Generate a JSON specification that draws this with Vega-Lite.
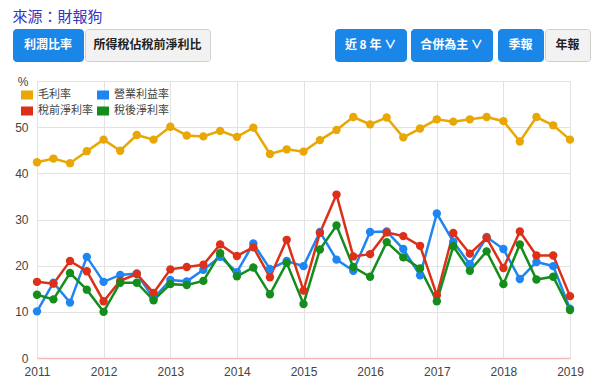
{
  "$schema": "https://vega.github.io/schema/vega-lite/v6.json",
  "background": "white",
  "padding": {"left": 12, "top": 9, "right": 0, "bottom": 0},
  "title": {"text": "來源：財報狗", "anchor": "start", "fontSize": 15, "fontWeight": "normal", "font": "Noto Sans CJK TC", "color": "#3535c4", "offset": 4},
  "config": {"view": {"stroke": null}, "font": "Liberation Sans"},
  "columns": 1,
  "align": "none",
  "spacing": 13,
  "resolve": {"legend": {"color": "independent"}, "scale": {"color": "independent"}},
  "concat": [
    {
      "spacing": 123,
      "hconcat": [
        {
          "spacing": 0,
          "hconcat": [
            {"width": 70, "height": 32, "view": {"fill": "#1a86e8", "stroke": "#1a86e8", "cornerRadius": 3},
             "data": {"values": [{"t": "利潤比率"}]},
             "mark": {"type": "text", "color": "white", "fontWeight": "bold", "fontSize": 12, "font": "Noto Sans CJK TC"},
             "encoding": {"text": {"field": "t"}}},
            {"width": 125, "height": 32, "view": {"fill": "#f2f2f2", "stroke": "#cfcfcf", "cornerRadius": 3},
             "data": {"values": [{"t": "所得稅佔稅前淨利比"}]},
             "mark": {"type": "text", "color": "#222222", "fontWeight": "bold", "fontSize": 12, "font": "Noto Sans CJK TC"},
             "encoding": {"text": {"field": "t"}}}
          ]
        },
        {
          "spacing": 3,
          "hconcat": [
            {"width": 71, "height": 32, "view": {"fill": "#1a86e8", "stroke": "#1a86e8", "cornerRadius": 3},
             "data": {"values": [{"t": "近 8 年 ∨"}]},
             "mark": {"type": "text", "color": "white", "fontWeight": "bold", "fontSize": 12, "font": "Noto Sans CJK TC"},
             "encoding": {"text": {"field": "t"}}},
            {
              "spacing": 4,
              "hconcat": [
                {"width": 81, "height": 32, "view": {"fill": "#1a86e8", "stroke": "#1a86e8", "cornerRadius": 3},
                 "data": {"values": [{"t": "合併為主 ∨"}]},
                 "mark": {"type": "text", "color": "white", "fontWeight": "bold", "fontSize": 12, "font": "Noto Sans CJK TC"},
                 "encoding": {"text": {"field": "t"}}},
                {
                  "spacing": 0,
                  "hconcat": [
                    {"width": 45, "height": 32, "view": {"fill": "#1a86e8", "stroke": "#1a86e8", "cornerRadius": 3},
                     "data": {"values": [{"t": "季報"}]},
                     "mark": {"type": "text", "color": "white", "fontWeight": "bold", "fontSize": 12, "font": "Noto Sans CJK TC"},
                     "encoding": {"text": {"field": "t"}}},
                    {"width": 45, "height": 32, "view": {"fill": "#f2f2f2", "stroke": "#cfcfcf", "cornerRadius": 3},
                     "data": {"values": [{"t": "年報"}]},
                     "mark": {"type": "text", "color": "#222222", "fontWeight": "bold", "fontSize": 12, "font": "Noto Sans CJK TC"},
                     "encoding": {"text": {"field": "t"}}}
                  ]
                }
              ]
            }
          ]
        }
      ]
    },
    {
      "bounds": "flush",
      "spacing": 0,
      "hconcat": [
        {"width": 24, "height": 277, "data": {"values": [{"t": ""}]},
         "mark": {"type": "text"}, "encoding": {"text": {"field": "t"}}},
        {
          "width": 533,
          "height": 277,
          "data": {"values": [
            {"q": "2011-01-01", "毛利率": 42.4, "營業利益率": 10.1, "稅前淨利率": 16.5, "稅後淨利率": 13.7},
            {"q": "2011-04-01", "毛利率": 43.2, "營業利益率": 16.3, "稅前淨利率": 16.1, "稅後淨利率": 12.7},
            {"q": "2011-07-01", "毛利率": 42.2, "營業利益率": 12.0, "稅前淨利率": 21.0, "稅後淨利率": 18.4},
            {"q": "2011-10-01", "毛利率": 44.8, "營業利益率": 21.9, "稅前淨利率": 18.8, "稅後淨利率": 14.8},
            {"q": "2012-01-01", "毛利率": 47.3, "營業利益率": 16.5, "稅前淨利率": 12.3, "稅後淨利率": 10.0},
            {"q": "2012-04-01", "毛利率": 44.9, "營業利益率": 18.0, "稅前淨利率": 16.7, "稅後淨利率": 16.3},
            {"q": "2012-07-01", "毛利率": 48.3, "營業利益率": 18.3, "稅前淨利率": 18.2, "稅後淨利率": 16.3},
            {"q": "2012-10-01", "毛利率": 47.3, "營業利益率": 12.9, "稅前淨利率": 14.1, "稅後淨利率": 12.5},
            {"q": "2013-01-01", "毛利率": 50.1, "營業利益率": 16.9, "稅前淨利率": 19.2, "稅後淨利率": 16.0},
            {"q": "2013-04-01", "毛利率": 48.2, "營業利益率": 16.6, "稅前淨利率": 19.7, "稅後淨利率": 15.8},
            {"q": "2013-07-01", "毛利率": 48.0, "營業利益率": 19.1, "稅前淨利率": 20.2, "稅後淨利率": 16.7},
            {"q": "2013-10-01", "毛利率": 49.2, "營業利益率": 21.9, "稅前淨利率": 24.6, "稅後淨利率": 22.7},
            {"q": "2014-01-01", "毛利率": 47.9, "營業利益率": 18.6, "稅前淨利率": 22.1, "稅後淨利率": 17.7},
            {"q": "2014-04-01", "毛利率": 49.9, "營業利益率": 24.8, "稅前淨利率": 24.0, "稅後淨利率": 19.6},
            {"q": "2014-07-01", "毛利率": 44.2, "營業利益率": 19.3, "稅前淨利率": 17.5, "稅後淨利率": 13.8},
            {"q": "2014-10-01", "毛利率": 45.2, "營業利益率": 21.0, "稅前淨利率": 25.6, "稅後淨利率": 20.6},
            {"q": "2015-01-01", "毛利率": 44.7, "營業利益率": 19.9, "稅前淨利率": 14.6, "稅後淨利率": 11.7},
            {"q": "2015-04-01", "毛利率": 47.2, "營業利益率": 27.3, "稅前淨利率": 27.1, "稅後淨利率": 23.5},
            {"q": "2015-07-01", "毛利率": 49.4, "營業利益率": 21.3, "稅前淨利率": 35.4, "稅後淨利率": 28.7},
            {"q": "2015-10-01", "毛利率": 52.2, "營業利益率": 18.9, "稅前淨利率": 22.0, "稅後淨利率": 19.7},
            {"q": "2016-01-01", "毛利率": 50.6, "營業利益率": 27.3, "稅前淨利率": 22.5, "稅後淨利率": 17.6},
            {"q": "2016-04-01", "毛利率": 52.1, "營業利益率": 27.4, "稅前淨利率": 27.2, "稅後淨利率": 25.1},
            {"q": "2016-07-01", "毛利率": 47.8, "營業利益率": 23.6, "稅前淨利率": 26.4, "稅後淨利率": 21.8},
            {"q": "2016-10-01", "毛利率": 49.7, "營業利益率": 17.9, "稅前淨利率": 24.3, "稅後淨利率": 19.4},
            {"q": "2017-01-01", "毛利率": 51.7, "營業利益率": 31.3, "稅前淨利率": 13.6, "稅後淨利率": 12.3},
            {"q": "2017-04-01", "毛利率": 51.2, "營業利益率": 25.2, "稅前淨利率": 27.1, "稅後淨利率": 24.2},
            {"q": "2017-07-01", "毛利率": 51.7, "營業利益率": 20.3, "稅前淨利率": 22.6, "稅後淨利率": 18.9},
            {"q": "2017-10-01", "毛利率": 52.2, "營業利益率": 26.2, "稅前淨利率": 26.0, "稅後淨利率": 23.1},
            {"q": "2018-01-01", "毛利率": 51.3, "營業利益率": 23.6, "稅前淨利率": 19.5, "稅後淨利率": 16.0},
            {"q": "2018-04-01", "毛利率": 46.9, "營業利益率": 17.1, "稅前淨利率": 27.4, "稅後淨利率": 24.6},
            {"q": "2018-07-01", "毛利率": 52.2, "營業利益率": 20.8, "稅前淨利率": 22.2, "稅後淨利率": 17.0},
            {"q": "2018-10-01", "毛利率": 50.4, "營業利益率": 19.9, "稅前淨利率": 22.2, "稅後淨利率": 17.6},
            {"q": "2019-01-01", "毛利率": 47.3, "營業利益率": 10.7, "稅前淨利率": 13.4, "稅後淨利率": 10.4}
          ]},
          "transform": [
            {"fold": ["毛利率", "營業利益率", "稅前淨利率", "稅後淨利率"], "as": ["series", "value"]}
          ],
          "encoding": {
            "x": {
              "field": "q", "type": "temporal",
              "scale": {"type": "utc", "nice": false},
              "axis": {"title": null, "format": "%Y", "tickCount": 8,
                       "ticks": false, "labelFlush": false, "labelPadding": 8, "labelFontSize": 12, "labelColor": "#444444",
                       "labelFont": "Liberation Sans", "domainColor": "#f2b8b8", "domainWidth": 1.5,
                       "gridColor": "#e3e3e3", "labelOverlap": false}
            },
            "y": {
              "field": "value", "type": "quantitative",
              "scale": {"domain": [0, 60], "nice": false},
              "axis": {"title": null, "values": [0, 10, 20, 30, 40, 50, 60],
                       "labelExpr": "datum.value == 60 ? '%' : datum.label",
                       "ticks": false, "domain": false, "labelPadding": 9, "labelFontSize": 12, "labelColor": "#444444",
                       "labelFont": "Liberation Sans", "gridColor": "#e3e3e3", "minExtent": 24, "maxExtent": 24}
            },
            "color": {
              "field": "series", "type": "nominal",
              "scale": {"domain": ["毛利率", "稅前淨利率", "營業利益率", "稅後淨利率"],
                        "range": ["#e8a704", "#dc3019", "#1d86f2", "#148d1d"]},
              "legend": {"title": null, "orient": "top-left", "offset": 8, "columns": 2, "columnPadding": 4,
                         "rowPadding": 5, "padding": 0, "labelFontSize": 11, "labelFont": "Noto Sans CJK TC",
                         "labelColor": "#444444", "labelOffset": 5,
                         "symbolType": "M-1,-0.75H1V0.75H-1Z", "symbolSize": 144, "symbolStrokeWidth": 0,
                         "symbolOpacity": 1}
            }
          },
          "layer": [
            {"mark": {"type": "line", "strokeWidth": 2.5}},
            {"mark": {"type": "point", "filled": true, "size": 70, "opacity": 1}}
          ]
        }
      ]
    }
  ]
}
